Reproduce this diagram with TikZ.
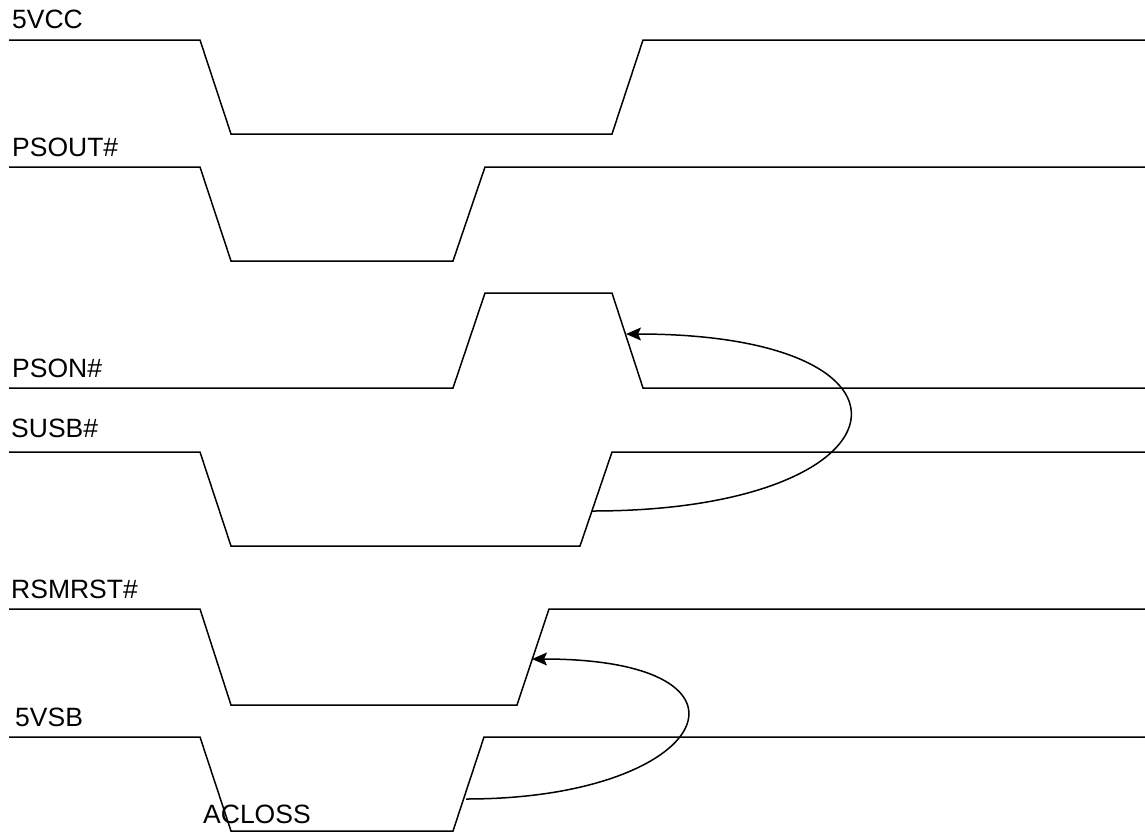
\documentclass[tikz,border=0pt]{standalone}
\usepackage{fontspec}
\setmainfont{Liberation Sans}
\usetikzlibrary{arrows.meta}
\begin{document}
\begin{tikzpicture}[x=1pt,y=-1pt,
  wave/.style={line width=1.5pt,line join=miter},
  lbl/.style={anchor=base west,inner sep=0pt,font=\fontsize{26.5}{31}\selectfont},
  dep/.style={line width=1.5pt,-{Stealth[length=15pt,width=13pt,inset=3pt]}}]
\useasboundingbox (0,0) rectangle (1145,833);
% labels
\node[lbl] (l5vcc) at (12,28) {5VCC};
\node[lbl] (lpsout) at (12,156) {PSOUT\#};
\node[lbl] (lpson) at (12,377) {PSON\#};
\node[lbl] (lsusb) at (11,437) {SUSB\#};
\node[lbl] (lrsm) at (11,598) {RSMRST\#};
\node[lbl] (l5vsb) at (15,726) {5VSB};
\node[lbl] (lacl) at (203,823) {ACLOSS};
% waveforms
\draw[wave] (9,40) -- (200,40) -- (231,134) -- (612,134) -- (643,40) -- (1145,40);
\draw[wave] (9,167) -- (200,167) -- (231,261) -- (453,261) -- (485,167) -- (1145,167);
\draw[wave] (9,388) -- (453,388) -- (485,293) -- (612,293) -- (643,388) -- (1145,388);
\draw[wave] (9,452) -- (200,452) -- (231,546) -- (580,546) -- (612,452) -- (1145,452);
\draw[wave] (9,609) -- (200,609) -- (231,705) -- (517,705) -- (549,609) -- (1145,609);
\draw[wave] (9,737) -- (200,737) -- (231,831) -- (453,831) -- (484,737) -- (1145,737);
% dependency points
\coordinate (susbR) at (592,511);
\coordinate (psonF) at (626,334);
\coordinate (vsbR) at (466,799);
\coordinate (rsmR) at (532,659);
\draw[dep] (susbR) .. controls (912,511) and (946,334) .. (psonF);
\draw[dep] (vsbR) .. controls (712,799) and (778,659) .. (rsmR);
\end{tikzpicture}
\end{document}
